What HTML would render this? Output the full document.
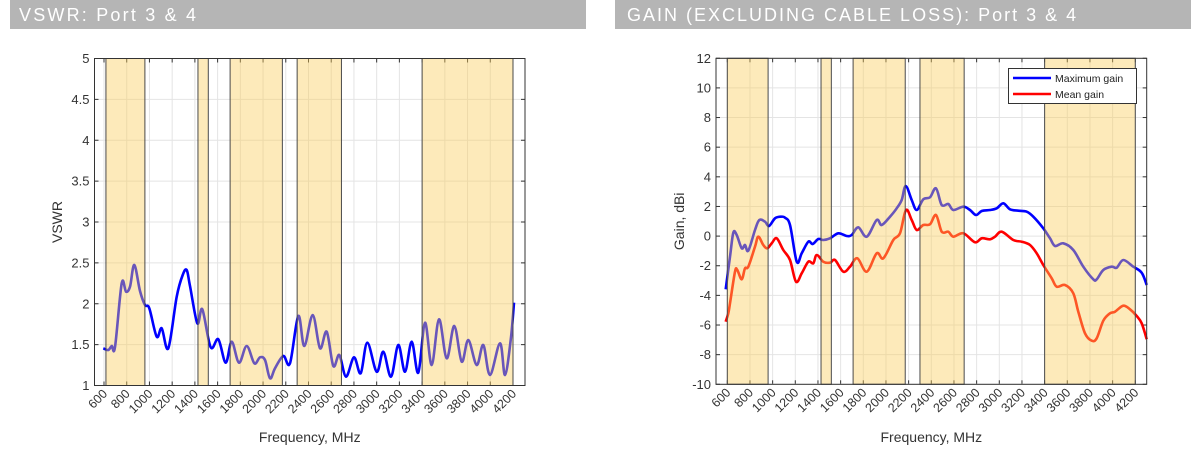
<!DOCTYPE html>
<html><head><meta charset="utf-8"><style>
html,body{margin:0;padding:0;background:#fff;}
svg{display:block;font-family:"Liberation Sans",Arial,sans-serif;}
</style></head><body>
<svg id="s" width="1200" height="454" viewBox="0 0 1200 454" xmlns="http://www.w3.org/2000/svg">
<rect x="10" y="0" width="576" height="29" fill="#b5b5b5"/>
<rect x="615" y="0" width="576" height="29" fill="#b5b5b5"/>
<text x="19" y="21" font-size="18" fill="#fff" letter-spacing="2.2">VSWR: Port 3 &amp; 4</text>
<text x="627" y="21" font-size="18" fill="#fff" letter-spacing="2">GAIN (EXCLUDING CABLE LOSS): Port 3 &amp; 4</text>
<g id="g"></g>
</svg>
<script>
var NS="http://www.w3.org/2000/svg",G=document.getElementById('g');
function el(t,a,txt){var e=document.createElementNS(NS,t);for(var k in a)e.setAttribute(k,a[k]);if(txt!==undefined)e.textContent=txt;G.appendChild(e);return e;}
function path(pts){var d="M"+pts[0][0]+","+pts[0][1];for(var i=0;i<pts.length-1;i++){var p0=pts[i-1]||pts[i],p1=pts[i],p2=pts[i+1],p3=pts[i+2]||p2;
var c1x=p1[0]+(p2[0]-p0[0])/6,c1y=p1[1]+(p2[1]-p0[1])/6,c2x=p2[0]-(p3[0]-p1[0])/6,c2y=p2[1]-(p3[1]-p1[1])/6;
d+=" C"+c1x.toFixed(1)+","+c1y.toFixed(1)+" "+c2x.toFixed(1)+","+c2y.toFixed(1)+" "+p2[0]+","+p2[1];}return d;}
function chart(o){
 var X=o.X,L=o.L,R=o.R,T=o.T,B=o.B;
 for(var f=600;f<=4200;f+=200){var x=X(f);el('line',{x1:x,x2:x,y1:T,y2:B,stroke:'#e4e4e4','stroke-width':1});
  el('line',{x1:x,x2:x,y1:B,y2:B-4,stroke:'#333'});el('line',{x1:x,x2:x,y1:T,y2:T+4,stroke:'#333'});
  el('text',{x:0,y:0,'font-size':12.5,fill:'#333','text-anchor':'end',transform:'translate('+(x+4)+','+(B+9)+') rotate(-45)'},String(f));}
 o.yt.forEach(function(v){var y=o.Y(v);el('line',{x1:L,x2:R,y1:y,y2:y,stroke:'#e4e4e4'});
  el('line',{x1:L,x2:L+4,y1:y,y2:y,stroke:'#333'});el('line',{x1:R,x2:R-4,y1:y,y2:y,stroke:'#333'});
  el('text',{x:L-5,y:y+4.5,'font-size':13,fill:'#333','text-anchor':'end'},o.fmt(v));});
 o.series.forEach(function(s){el('path',{d:path(s.p),fill:'none',stroke:s.c,'stroke-width':2.6,'stroke-linejoin':'round'});});
 o.bands.forEach(function(b){var x1=X(b[0]),x2=X(b[1]);el('rect',{x:x1,y:T,width:x2-x1,height:B-T,fill:'rgba(250,205,90,0.42)',stroke:'#4a4a4a','stroke-width':1});});
 el('rect',{x:L,y:T,width:R-L,height:B-T,fill:'none',stroke:'#333','stroke-width':1});
 el('text',{x:(L+R)/2,y:442,'font-size':14,fill:'#333','text-anchor':'middle'},'Frequency, MHz');
 el('text',{x:0,y:0,'font-size':14,fill:'#333','text-anchor':'middle',transform:'translate('+o.ylx+','+((T+B)/2)+') rotate(-90)'},o.yl);
}
var v=[[103.3,348.3],[108.3,350],[111.7,346],[115,347],[121.7,283.3],[126,291.7],[130,286.7],[134.3,265],[140,291],[145,305],[149.3,308.3],[156.7,336.7],[161.7,328.3],[168.3,348.3],[176.7,296.7],[182.7,275],[186.7,270],[190,286],[197.3,323.3],[202.3,309.3],[210.7,347.3],[218.3,339.3],[225.7,362.7],[231.7,341.7],[239,362.7],[246.7,346],[254.3,363.3],[260,357.3],[265,360],[270,378.3],[275,368.3],[283.3,356],[290,363.3],[298.3,316],[304.3,346],[312.7,315],[320,348.3],[326.7,331.7],[333.3,366],[339.3,355],[346,376.7],[354,357.3],[360.7,373.3],[367.3,342.7],[376.7,371.7],[383.3,351.7],[391,376.7],[398.3,345],[405,371.7],[411.7,341.7],[418.3,372.7],[425,322.7],[431.7,365],[439,319.3],[446.7,358.3],[454.3,326],[461.7,361.7],[468.3,340],[476.7,365],[483.3,345],[490,375],[500,343.3],[505,375],[510.7,340],[514,302.7]];
chart({X:function(f){return 104+(f-600)*0.11361},L:94.5,R:525,T:58.5,B:385.5,
 Y:function(y){return 385.5-(y-1)*81.75},yt:[1,1.5,2,2.5,3,3.5,4,4.5,5],fmt:function(x){return String(x)},
 bands:[[617,960],[1427,1518],[1710,2170],[2300,2690],[3400,4200]],series:[{p:v,c:'#0000ff'}],yl:'VSWR',ylx:62});
var bl=[[725.7,289.3],[730,256.7],[733.3,232.7],[736.7,235],[741.7,248.3],[745,245],[748.3,250.7],[755,230],[759.3,220],[765,221.7],[769,226],[775,218.3],[780.7,216.7],[785,217.7],[790,225],[796.7,261.7],[801.7,253.3],[808.3,241.7],[812.7,244],[818.3,239],[823.3,240],[830,238.3],[838.3,233.3],[846.7,236],[851.7,235],[858.3,227.3],[866.7,236.7],[876.7,220],[881.7,225],[890,216.7],[896.7,208.3],[901.7,200],[905.7,186],[911.7,200],[916.7,210],[923.3,199.3],[930,197.3],[936,188.3],[941.7,205],[948.3,204],[953.3,210],[963.3,206.7],[970,210],[976,215],[981.7,211],[990,210],[996.7,208.3],[1003.3,203.3],[1010,209.3],[1018.3,210.7],[1026.7,211.7],[1033.3,216.7],[1043.3,228.3],[1050,238.3],[1055,246],[1063.3,243.3],[1073.3,250],[1083.3,266.7],[1093.3,279.3],[1096.7,279.3],[1103.3,270],[1111.7,266.7],[1116.7,267.7],[1123.3,260],[1133.3,266.7],[1141.7,272.7],[1146.7,285]];
var rd=[[725.7,321.7],[728.3,313.3],[730,303.3],[735,271.7],[737.3,270],[741.7,279.3],[745,268.3],[748.3,266.7],[755,246.7],[758.3,236.7],[763.3,245],[767.3,248.3],[771.7,243.3],[776.7,238.3],[783.3,250],[790,260],[796,281.7],[801.7,273.3],[808.3,261.7],[813.3,263.3],[816.7,255],[823.3,261.7],[830,262.7],[835,260],[843.3,271.7],[850,266.7],[857.3,258.3],[866.7,271.7],[876.7,253.3],[883.3,258.3],[893.3,240],[900,233.3],[906,210],[911.7,220],[916.7,230],[923.3,225],[930,224.3],[936,215],[941.7,231.7],[948.3,231.7],[953.3,236.7],[963.3,233.3],[975,242.3],[981.7,238.3],[990,239.3],[995,236.7],[1001.7,231.7],[1013.3,240],[1021.7,241.7],[1030,245],[1036.7,253.3],[1043.3,265],[1051.7,278.3],[1056.7,286.7],[1065,285],[1073.3,293.3],[1078.3,311.7],[1085,333.3],[1091.7,340.7],[1096.7,338.3],[1103.3,320.7],[1110,313.3],[1115,311.7],[1123.3,305.7],[1130,309.3],[1136.7,316],[1141.7,323.3],[1146.7,339.3]];
chart({X:function(f){return 727.3+(f-600)*0.11333},L:716,R:1146.7,T:58.3,B:384.3,
 Y:function(y){return 384.3-(y+10)*14.82},yt:[-10,-8,-6,-4,-2,0,2,4,6,8,10,12],fmt:function(x){return String(x)},
 bands:[[600,960],[1427,1518],[1710,2170],[2300,2690],[3400,4200]],series:[{p:bl,c:'#0000ff'},{p:rd,c:'#ff0000'}],yl:'Gain, dBi',ylx:684});
el('rect',{x:1008.5,y:68.5,width:128,height:35,fill:'#fff',stroke:'#333'});
el('line',{x1:1013,x2:1051,y1:78,y2:78,stroke:'#0000ff','stroke-width':2.6});
el('line',{x1:1013,x2:1051,y1:94,y2:94,stroke:'#ff0000','stroke-width':2.6});
el('text',{x:1055,y:82,'font-size':10.5,fill:'#222'},'Maximum gain');
el('text',{x:1055,y:98,'font-size':10.5,fill:'#222'},'Mean gain');
</script>
</body></html>
